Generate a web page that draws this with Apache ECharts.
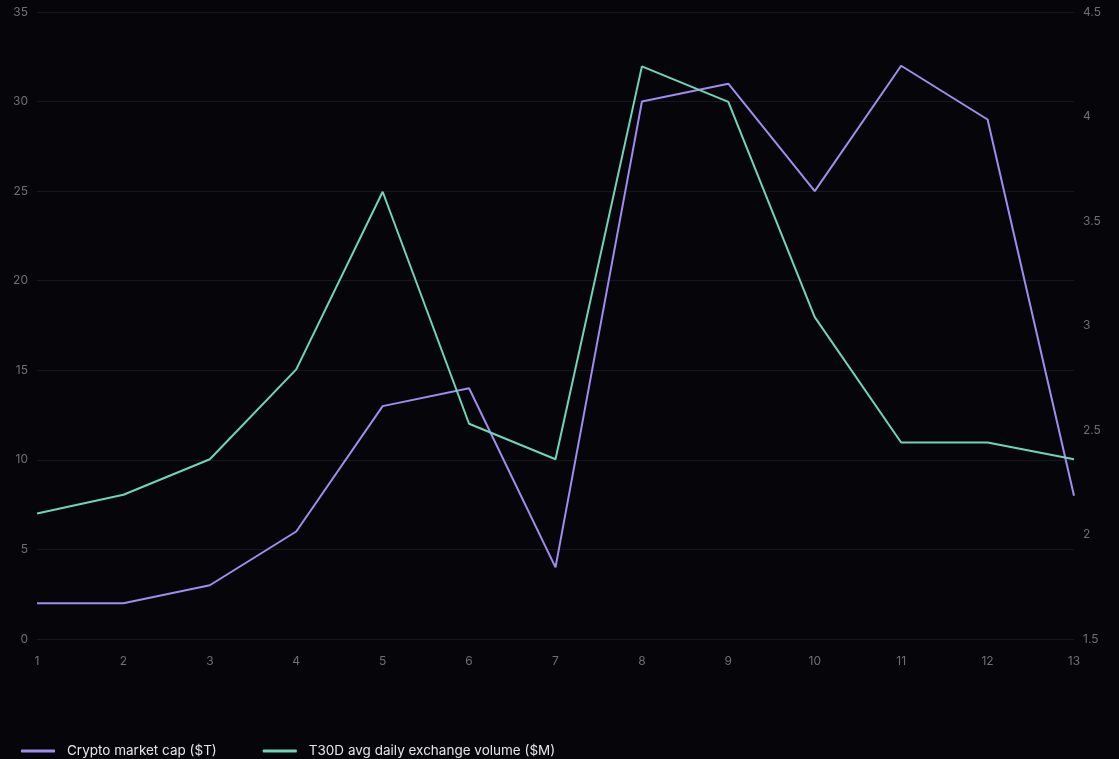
<!DOCTYPE html>
<html>
<head>
<meta charset="utf-8">
<script src="https://cdn.jsdelivr.net/npm/echarts@6/dist/echarts.min.js"></script>
<style>
html,body{margin:0;padding:0;background:#06060a;}
#chart{width:1119px;height:759px;}
</style>
</head>
<body>
<div id="chart"></div>
<script>
const categories = ['1','2','3','4','5','6','7','8','9','10','11','12','13'];
const marketCap = [2, 2, 3, 6, 13, 14, 4, 30, 31, 25, 32, 29, 8];
const volume = [2.1, 2.19, 2.36, 2.79, 3.64, 2.53, 2.36, 4.24, 4.07, 3.04, 2.44, 2.44, 2.36];
const seriesNames = ['Crypto market cap ($T)', 'T30D avg daily exchange volume ($M)'];

const chart = echarts.init(document.getElementById('chart'));
const labelStyle = {color:'#6e6e78', fontSize:12, fontFamily:'Inter'};
chart.setOption({
  backgroundColor:'#06060a',
  animation:false,
  grid:{left:37, right:45, top:12, bottom:120},
  legend:{
    top:739, left:16, itemWidth:34, itemHeight:3, itemGap:46,
    icon:'roundRect',
    textStyle:{color:'#e4e4ea', fontSize:13.5, fontFamily:'Inter', padding:[0,0,0,7]},
    data:seriesNames
  },
  xAxis:{
    type:'category', data:categories, boundaryGap:false,
    axisLine:{show:false}, axisTick:{show:false},
    axisLabel:Object.assign({margin:16}, labelStyle)
  },
  yAxis:[
    {type:'value', min:0, max:35, interval:5,
     axisLine:{show:false}, axisTick:{show:false},
     axisLabel:Object.assign({margin:9}, labelStyle),
     splitLine:{lineStyle:{color:'#16161c', width:1}}},
    {type:'value', min:1.5, max:4.5, interval:0.5,
     axisLine:{show:false}, axisTick:{show:false},
     axisLabel:Object.assign({margin:9}, labelStyle),
     splitLine:{show:false}}
  ],
  series:[
    {name:seriesNames[0], type:'line', data:marketCap, yAxisIndex:0,
     symbol:'none', lineStyle:{color:'#a08cf0', width:2}, itemStyle:{color:'#a08cf0'}},
    {name:seriesNames[1], type:'line', data:volume, yAxisIndex:1,
     symbol:'none', lineStyle:{color:'#6fd5b8', width:2}, itemStyle:{color:'#6fd5b8'}}
  ]
});
</script>
</body>
</html>
